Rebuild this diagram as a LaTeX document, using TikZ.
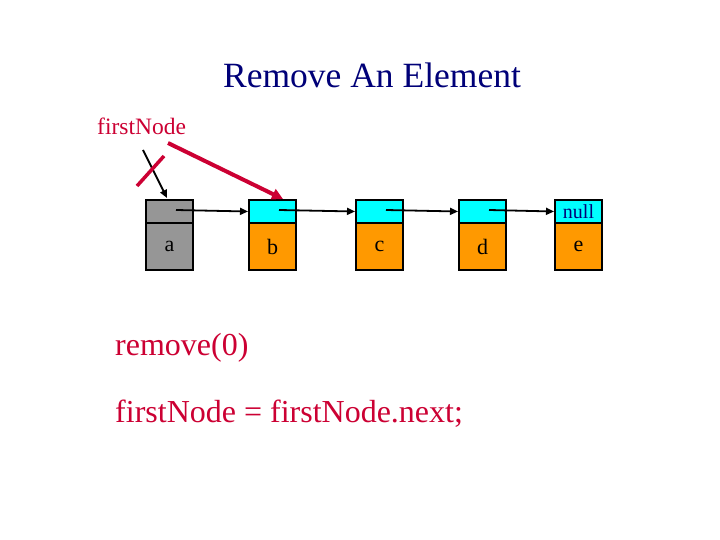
\documentclass[tikz,border=0pt]{standalone}
\usepackage{fontspec}
\setmainfont{Liberation Serif}
\usetikzlibrary{arrows.meta}
\definecolor{navy}{RGB}{0,0,120}
\definecolor{crim}{RGB}{204,0,51}
\definecolor{cell}{RGB}{0,255,255}
\definecolor{body}{RGB}{255,153,0}
\definecolor{grayc}{RGB}{150,150,150}
\tikzset{
  toppart/.style={draw=black, line width=2pt, minimum width=47pt, minimum height=23pt, inner sep=0pt, anchor=north west, font=\fontsize{20}{20}\selectfont},
  botpart/.style={draw=black, line width=2pt, minimum width=47pt, minimum height=47pt, inner sep=0pt, anchor=north west, font=\fontsize{22}{22}\selectfont},
  link/.style={line width=1.8pt, -{Triangle[length=8pt,width=7pt]}},
  redline/.style={draw=crim, line width=4pt},
}
\begin{document}
\begin{tikzpicture}[x=1pt,y=-1pt]
\useasboundingbox[fill=white] (0,0) rectangle (720,540);
\node[navy, font=\fontsize{35.5}{35.5}\selectfont, anchor=base] (title) at (372,88) {Remove An Element};
\node[crim, font=\fontsize{23.5}{23.5}\selectfont, anchor=base west, inner sep=0pt] (fn) at (97,135) {firstNode};
% boxes
\foreach \n/\x/\l/\f in {a/145/a/grayc, b/248/b/body, c/355/c/body, d/458/d/body, e/554/e/body}{
  \node[botpart, fill=\f] (\n bot) at (\x,222) {\l};
}
\node[toppart, fill=grayc] (atop) at (145,199) {};
\node[toppart, fill=cell] (btop) at (248,199) {};
\node[toppart, fill=cell] (ctop) at (355,199) {};
\node[toppart, fill=cell] (dtop) at (458,199) {};
\node[toppart, fill=cell, text=navy] (etop) at (554,199) {\raisebox{-5pt}{null}};
% link start points
\coordinate (ap) at (176,210);
\coordinate (bp) at (279,210);
\coordinate (cp) at (386,210);
\coordinate (dp) at (489,210);
\draw[link] (ap) -- (btop.west);
\draw[link] (bp) -- (ctop.west);
\draw[link] (cp) -- (dtop.west);
\draw[link] (dp) -- (etop.west);
% old firstNode pointer
\coordinate (old) at (143,150);
\coordinate (atarget) at (167,198);
\draw[line width=1.8pt, -{Triangle[length=8pt,width=7pt]}] (old) -- (atarget);
\coordinate (x1) at (137,186);
\coordinate (x2) at (164,156);
\draw[redline, line width=3.5pt] (x1) -- (x2);
% new firstNode pointer
\coordinate (newstart) at (168,143);
\coordinate (btarget) at (283,199);
\draw[redline, -{Triangle[length=11pt,width=11pt]}] (newstart) -- (btarget);
% code text
\node[crim, font=\fontsize{32}{32}\selectfont, anchor=base west, inner sep=0pt] (rm) at (115,355) {remove(0)};
\node[crim, font=\fontsize{32}{32}\selectfont, anchor=base west, inner sep=0pt] (code) at (115,422) {firstNode = firstNode.next;};
\end{tikzpicture}
\end{document}
